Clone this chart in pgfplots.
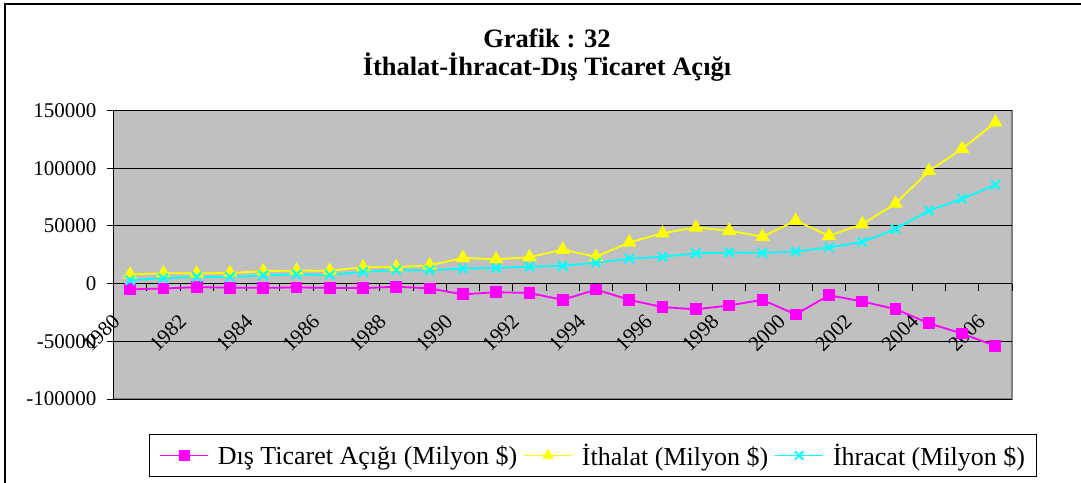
\documentclass[border=0pt]{standalone}
\usepackage{fontspec}
\setmainfont{Liberation Serif}
\usepackage{pgfplots}
\usepackage{pgfplotstable}
\pgfplotsset{compat=1.18}
\definecolor{cmag}{RGB}{255,0,255}
\definecolor{cyel}{RGB}{255,255,0}
\definecolor{ccyan}{RGB}{0,255,255}
\definecolor{plotgray}{RGB}{192,192,192}
\definecolor{bordergray}{RGB}{128,128,128}

\pgfplotstableread{
idx year deficit imports exports
0  1980  -4999   7909   2910
1  1981  -4230   8933   4703
2  1982  -3097   8843   5746
3  1983  -3507   9235   5728
4  1984  -3623  10757   7134
5  1985  -3385  11343   7958
6  1986  -3648  11105   7457
7  1987  -3968  14158  10190
8  1988  -2673  14335  11662
9  1989  -4167  15792  11625
10 1990  -9343  22302  12959
11 1991  -7454  21047  13593
12 1992  -8156  22871  14715
13 1993 -14083  29428  15345
14 1994  -5164  23270  18106
15 1995 -14072  35709  21637
16 1996 -20402  43627  23224
17 1997 -22298  48559  26261
18 1998 -18947  45921  26974
19 1999 -14084  40671  26587
20 2000 -26728  54503  27775
21 2001 -10065  41399  31334
22 2002 -15495  51554  36059
23 2003 -22087  69340  47253
24 2004 -34373  97540  63167
25 2005 -43298 116774  73476
26 2006 -54041 139576  85535
}\tradedata

\begin{document}
\begin{tikzpicture}
\useasboundingbox (0,0) rectangle (1081bp,483bp);
% outer chart border
\draw[line width=2bp, black] (5bp,-20bp) rectangle (1100bp,478.7bp);
% titles
\node[anchor=base, font=\fontsize{26.5bp}{30bp}\selectfont\bfseries, inner sep=0pt] at (547bp,435bp) {Grafik : 32};
\node[anchor=base, font=\fontsize{26.5bp}{30bp}\selectfont\bfseries, inner sep=0pt] at (547bp,407bp) {İthalat-İhracat-Dış Ticaret Açığı};
\begin{axis}[
  at={(113.5bp,84bp)}, anchor=south west,
  scale only axis, width=898.5bp, height=288.5bp,
  xmin=-0.5, xmax=26.5, ymin=-100000, ymax=150000,
  axis x line*=middle, axis y line*=left,
  hide obscured x ticks=false, hide obscured y ticks=false,
  axis background/.style={fill=plotgray, draw=bordergray, line width=1.6bp},
  axis line style={black, line width=0.8bp},
  ytick={-100000,-50000,0,50000,100000,150000},
  ymajorgrids, major grid style={black, line width=0.8bp},
  scaled y ticks=false,
  /pgf/number format/fixed, /pgf/number format/1000 sep={},
  /pgf/number format/assume math mode=true,
  tick align=outside, major tick length=7bp,
  tick style={black, line width=0.8bp},
  y tick label style={font=\fontsize{21bp}{24bp}\selectfont, anchor=east, inner sep=0pt, xshift=-10bp},
  xtick={-0.5,0.5,...,26.5}, xticklabels={},
  extra x ticks={0,2,...,26},
  extra x tick labels={1980,1982,1984,1986,1988,1990,1992,1994,1996,1998,2000,2002,2004,2006},
  extra x tick style={major tick length=0pt, tick style={draw=none},
    x tick label style={font=\fontsize{21bp}{24bp}\selectfont, inner sep=0pt, xshift=-19bp, yshift=-29bp, rotate=45, anchor=north east}},
  legend columns=3,
  legend style={at={(0.5337,-0.1958)}, anchor=center, draw=none, fill=white, name=leg,
    font=\fontsize{26bp}{30bp}\selectfont, inner xsep=9bp, inner ysep=7bp,
    /tikz/every odd column/.append style={column sep=7bp},
    /tikz/every even column/.append style={column sep=4bp}},
]
\addplot[color=cmag, line width=1.8bp, mark=square*, mark size=5bp, mark options={solid, fill=cmag, draw=cmag}, forget plot]
  table[x=idx, y=deficit] {\tradedata};
\addplot[color=cyel, line width=1.8bp, mark=triangle*, mark size=6.5bp, mark options={solid, fill=cyel, draw=cyel}, forget plot]
  table[x=idx, y=imports] {\tradedata};
\addplot[color=ccyan, line width=1.8bp, mark=x, mark size=6.5bp, mark options={solid, draw=ccyan, line width=2bp}, forget plot]
  table[x=idx, y=exports] {\tradedata};
\addlegendimage{legend image code/.code={%
  \draw[draw=cmag, line width=1.8bp] (0bp,0bp) -- (48bp,0bp);
  \path plot[mark=square*, mark size=5bp, mark options={fill=cmag, draw=cmag}] coordinates {(24bp,0bp)};}}
\addlegendentry{Dış Ticaret Açığı (Milyon \$)}
\addlegendimage{legend image code/.code={%
  \draw[draw=cyel, line width=1.8bp] (0bp,0bp) -- (48bp,0bp);
  \path plot[mark=triangle*, mark size=6.5bp, mark options={fill=cyel, draw=cyel}] coordinates {(24bp,0bp)};}}
\addlegendentry{İthalat (Milyon \$)}
\addlegendimage{legend image code/.code={%
  \draw[draw=ccyan, line width=1.8bp] (0bp,0bp) -- (48bp,0bp);
  \path plot[mark=x, mark size=6bp, mark options={draw=ccyan, line width=1.8bp}] coordinates {(24bp,0bp)};}}
\addlegendentry{İhracat (Milyon \$)}
\end{axis}
\draw[line width=1.3bp, black] (leg.south west) rectangle (leg.north east);
\end{tikzpicture}
\end{document}
